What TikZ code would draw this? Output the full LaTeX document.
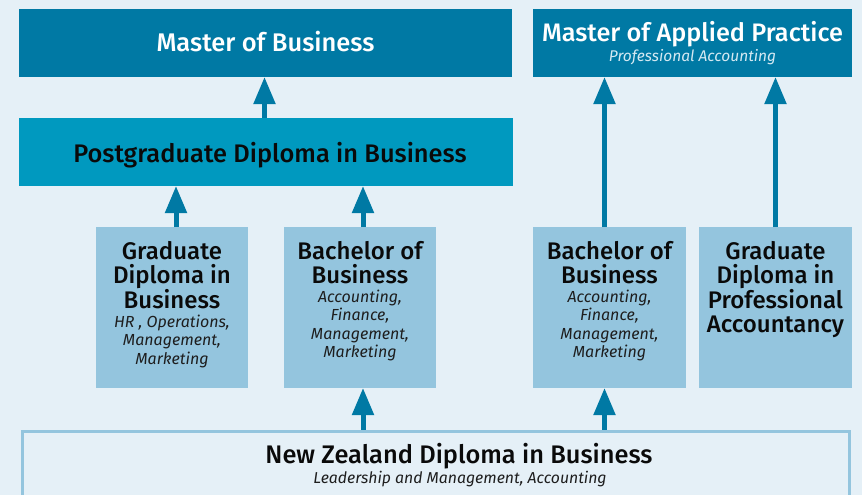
\documentclass[tikz,border=0pt]{standalone}
\usepackage{fontspec}
\setmainfont{Fira Sans}
\newfontfamily\medfont{Fira Sans Medium}
\usetikzlibrary{arrows.meta}
\definecolor{bg}{HTML}{E5F0F7}
\definecolor{dark}{HTML}{0079A4}
\definecolor{mid}{HTML}{0099BF}
\definecolor{pale}{HTML}{94C5DE}
\definecolor{subw}{HTML}{D5E9F2}
\definecolor{ink}{HTML}{0A0A0A}
\definecolor{itink}{HTML}{1E1E1E}
\newcommand\stk[1]{\vtop{\halign{\hfil##\hfil\cr#1\crcr}}}
\tikzset{
  box/.style={anchor=north west, inner sep=0pt, outer sep=0pt, fill=#1},
  ttl/.style={anchor=base, inner sep=0pt, text=ink, font=\medfont\fontsize{24}{24}\selectfont},
  sub/.style={anchor=base, inner sep=0pt, text=itink, font=\fontsize{16}{18.5}\selectfont\itshape},
  arr/.style={draw=dark, line width=5pt, -{Triangle[width=21pt,length=27pt]}},
}
\begin{document}
\begin{tikzpicture}[x=1pt,y=-1pt]
\fill[bg] (0,0) rectangle (862,495);
\useasboundingbox (0,0) rectangle (862,495);
\clip (0,0) rectangle (862,495);
% boxes
\node[box=dark, minimum width=493pt, minimum height=68pt] (mb) at (19,9) {};
\node[box=dark, minimum width=319pt, minimum height=68pt] (map) at (533,9) {};
\node[box=mid, minimum width=494pt, minimum height=68pt] (pgd) at (19,118) {};
\node[box=pale, minimum width=152pt, minimum height=161pt] (gd) at (96,227) {};
\node[box=pale, minimum width=152pt, minimum height=161pt] (bb1) at (284,227) {};
\node[box=pale, minimum width=153pt, minimum height=161pt] (bb2) at (533,227) {};
\node[box=pale, minimum width=153pt, minimum height=161pt] (gdpa) at (699,227) {};
\node[anchor=north west, draw=pale, line width=3pt, fill=bg, inner sep=0pt,
      minimum width=826.5pt, minimum height=90pt] (nzd) at (21,429.5) {};
% texts
\node[ttl, text=white, font=\medfont\fontsize{25.5}{25.5}\selectfont] (mbt) at (265.5,52) {Master of Business};
\node[ttl, text=white, font=\medfont\fontsize{25.3}{25.3}\selectfont] (mapt) at (692.5,42) {Master of Applied Practice};
\node[sub, text=subw, font=\fontsize{15.5}{17}\selectfont\itshape] (maps) at (692.5,62) {Professional Accounting};
\node[ttl, font=\medfont\fontsize{25.4}{25.4}\selectfont] (pgdt) at (270,162) {Postgraduate Diploma in Business};
\node[ttl] (gdt) at (172,259) {\stk{Graduate\cr Diploma in\cr Business}};
\node[sub] (gds) at (172,327) {\stk{HR , Operations,\cr Management,\cr Marketing}};
\node[ttl] (bb1t) at (360,259) {\stk{Bachelor of\cr Business}};
\node[sub] (bb1s) at (360,302) {\stk{Accounting,\cr Finance,\cr Management,\cr Marketing}};
\node[ttl] (bb2t) at (609.5,259) {\stk{Bachelor of\cr Business}};
\node[sub] (bb2s) at (609.5,302) {\stk{Accounting,\cr Finance,\cr Management,\cr Marketing}};
\node[ttl] (gdpat) at (775.5,259) {\stk{Graduate\cr Diploma in\cr Professional\cr Accountancy}};
\node[ttl, font=\medfont\fontsize{25.4}{25.4}\selectfont] (nzt) at (459,463) {New Zealand Diploma in Business};
\node[sub, font=\fontsize{15.8}{17}\selectfont\itshape] (nzs) at (460,483) {Leadership and Management, Accounting};
% arrows
\draw[arr] (pgd.north -| 264.5,0) -- (mb.south -| 264.5,0);
\draw[arr] (gd.north -| 176,0) -- (pgd.south -| 176,0);
\draw[arr] (bb1.north -| 363,0) -- (pgd.south -| 363,0);
\draw[arr] (bb2.north -| 604.5,0) -- (map.south -| 604.5,0);
\draw[arr] (gdpa.north -| 775.5,0) -- (map.south -| 775.5,0);
\draw[arr] (nzd.north -| 363,0) -- (bb1.south -| 363,0);
\draw[arr] (nzd.north -| 604.5,0) -- (bb2.south -| 604.5,0);
\end{tikzpicture}
\end{document}
